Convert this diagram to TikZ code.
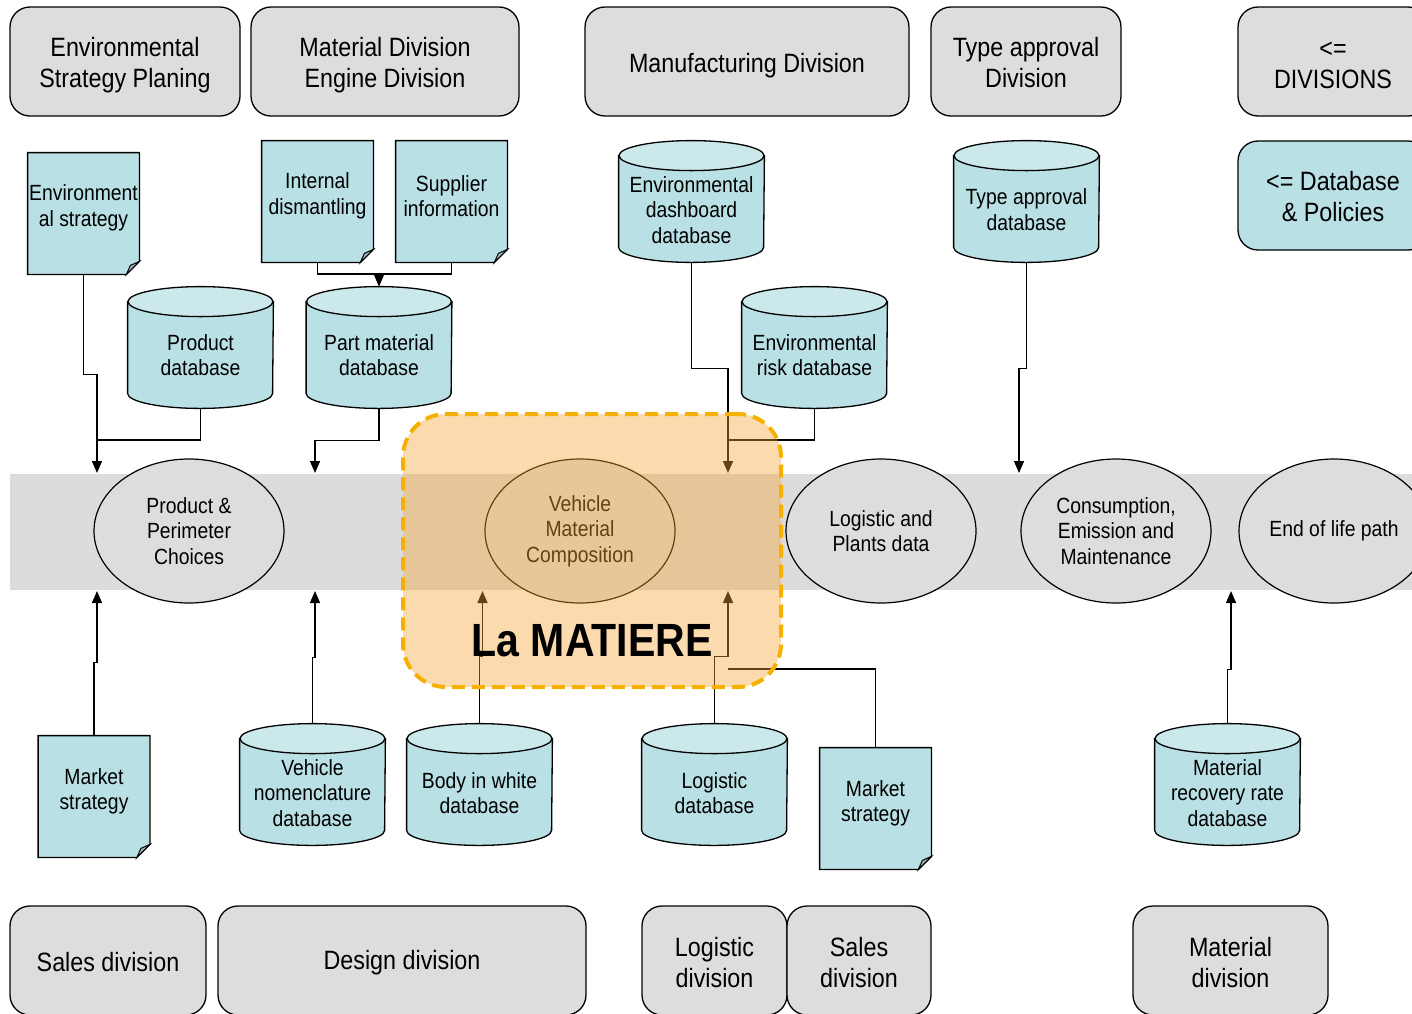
\documentclass[tikz,border=0pt]{standalone}
\usepackage{fontspec}
\setmainfont{Liberation Sans}[FakeStretch=0.88]
\usetikzlibrary{arrows.meta,shapes.geometric}
\definecolor{divgray}{RGB}{221,221,221}
\definecolor{bandgray}{RGB}{220,220,220}
\definecolor{tealbody}{RGB}{185,224,228}
\definecolor{tealtop}{RGB}{203,232,235}
\definecolor{foldgray}{RGB}{165,186,189}
\definecolor{matorange}{RGB}{246,176,0}
\definecolor{matfill}{RGB}{247,165,50}
\pgfdeclarelayer{bg}
\pgfdeclarelayer{shapes}
\pgfsetlayers{bg,shapes,main}
\newcommand\fsbig{\fontsize{13.25pt}{15.5pt}\selectfont}
\newcommand\fssm{\fontsize{11pt}{12.7pt}\selectfont}
\newcommand\cylof[1]{%
 \filldraw[line width=.65pt, fill=tealbody] ([yshift=-7.5pt]#1.north west) -- ([yshift=7.5pt]#1.south west)
   arc[start angle=180, end angle=360, x radius=36.25pt, y radius=7.5pt] -- ([yshift=-7.5pt]#1.north east) -- cycle;
 \filldraw[line width=.65pt, fill=tealtop] ([yshift=-7.5pt]#1.north) ellipse [x radius=36.25pt, y radius=7.5pt];}
\newcommand\docof[1]{%
 \filldraw[line width=.65pt, fill=tealbody] (#1.north west) -- (#1.north east) -- ([yshift=6.5pt]#1.south east)
   -- ([xshift=-6.5pt]#1.south east) -- (#1.south west) -- cycle;
 \filldraw[line width=.5pt, fill=foldgray] ([yshift=6.5pt]#1.south east) -- ([xshift=-4.5pt,yshift=4.5pt]#1.south east)
   -- ([xshift=-6.5pt]#1.south east) -- cycle;}
\begin{document}
\begin{tikzpicture}[x=0.5pt,y=-0.5pt,
  divbox/.style={draw, line width=.65pt, fill=divgray, rounded corners=10pt, inner sep=0, minimum height=54.5pt},
  polbox/.style={divbox, fill=tealbody},
  bigtxt/.style={align=center, font=\fsbig, inner sep=0},
  docnode/.style={minimum width=55.5pt, minimum height=60.5pt, inner sep=0},
  cylnode/.style={minimum width=72.5pt, minimum height=60.5pt, inner sep=0},
  txt/.style={align=center, font=\fssm, inner sep=0},
  ellnode/.style={ellipse, draw, line width=.6pt, fill=divgray, minimum width=95pt, minimum height=72pt, inner sep=0},
  ln/.style={line width=.7pt},
  arr/.style={line width=.7pt, -{Triangle[length=6pt,width=5pt]}},
  matbox/.style={draw=matorange, line width=2pt, dash pattern=on 6.5pt off 3.5pt, fill=matfill, fill opacity=0.4,
     rounded corners=21.5pt, minimum width=189pt, minimum height=136.5pt, inner sep=0}]
\path[use as bounding box, clip] (0,0) rectangle (1412,1013);

% background and band
\begin{pgfonlayer}{bg}
\fill[white] (0,0) rectangle (1412,1013);
\node[fill=bandgray, minimum width=705pt, minimum height=58pt, inner sep=0] (band) at (715,532) {};
\end{pgfonlayer}

% top divisions
\node[divbox, minimum width=115pt] (d1) at (125,61.5) {};
\node[bigtxt] (d1-t) at ([yshift=-2pt]d1.center) {Environmental\\Strategy Planing};
\node[divbox, minimum width=134pt] (d2) at (385,61.5) {};
\node[bigtxt] (d2-t) at ([yshift=-2pt]d2.center) {Material Division\\Engine Division};
\node[divbox, minimum width=162pt] (d3) at (747,61.5) {};
\node[bigtxt] (d3-t) at ([yshift=-2pt]d3.center) {Manufacturing Division};
\node[divbox, minimum width=95pt] (d4) at (1026,61.5) {};
\node[bigtxt] (d4-t) at ([yshift=-0.75pt]d4.center) {Type approval\\Division};
\node[divbox, minimum width=95pt] (d5) at (1333,61.5) {};
\node[bigtxt] (d5-t) at ([yshift=-2pt]d5.center) {<=\\DIVISIONS};
\node[polbox, minimum width=95pt] (pol) at (1333,195.5) {};
\node[bigtxt] (pol-t) at ([yshift=-0.5pt]pol.center) {<= Database\\\& Policies};

% bottom divisions
\node[divbox, minimum width=98pt] (b1) at (108,960.5) {};
\node[bigtxt] (b1-t) at ([yshift=-1pt]b1.center) {Sales division};
\node[divbox, minimum width=184pt] (b2) at (402,960.5) {};
\node[bigtxt] (b2-t) at ([yshift=-1pt]b2.center) {Design division};
\node[divbox, minimum width=72.5pt] (b3) at (714.5,960.5) {};
\node[bigtxt] (b3-t) at ([yshift=-1pt]b3.center) {Logistic\\division};
\node[divbox, minimum width=72pt] (b4) at (859,960.5) {};
\node[bigtxt] (b4-t) at ([yshift=-1pt]b4.center) {Sales\\division};
\node[divbox, minimum width=97.5pt] (b5) at (1230.5,960.5) {};
\node[bigtxt] (b5-t) at ([yshift=-1pt]b5.center) {Material\\division};

% documents
\node[docnode] (es) at (83.5,213.5) {};
\node[txt] (es-t) at ([yshift=2.75pt]es.center) {Environment\\al strategy};
\node[docnode] (idm) at (317.5,201.5) {};
\node[txt] (idm-t) at ([yshift=2.75pt]idm.center) {Internal\\dismantling};
\node[docnode] (sup) at (451.5,201.5) {};
\node[txt] (sup-t) at ([yshift=2.75pt]sup.center) {Supplier\\information};
\node[docnode] (ms1) at (94,796.5) {};
\node[txt] (ms1-t) at ([yshift=2.5pt]ms1.center) {Market\\strategy};
\node[docnode] (ms2) at (875.5,808.5) {};
\node[txt] (ms2-t) at ([yshift=2.5pt]ms2.center) {Market\\strategy};

% cylinders
\node[cylnode] (pd) at (200.5,347.5) {};
\node[txt] (pd-t) at ([yshift=-3.75pt]pd.center) {Product\\database};
\node[cylnode] (pm) at (379,347.5) {};
\node[txt] (pm-t) at ([yshift=-3.75pt]pm.center) {Part material\\database};
\node[cylnode] (edb) at (691.5,201.5) {};
\node[txt] (edb-t) at ([yshift=-4.25pt]edb.center) {Environmental\\dashboard\\database};
\node[cylnode] (erd) at (814.5,347.5) {};
\node[txt] (erd-t) at ([yshift=-3.75pt]erd.center) {Environmental\\risk database};
\node[cylnode] (tad) at (1026.5,201.5) {};
\node[txt] (tad-t) at ([yshift=-4pt]tad.center) {Type approval\\database};
\node[cylnode] (vnd) at (312.5,784.5) {};
\node[txt] (vnd-t) at ([yshift=-4.25pt]vnd.center) {Vehicle\\nomenclature\\database};
\node[cylnode] (bwd) at (479.5,784.5) {};
\node[txt] (bwd-t) at ([yshift=-4.25pt]bwd.center) {Body in white\\database};
\node[cylnode] (ldb) at (714.5,784.5) {};
\node[txt] (ldb-t) at ([yshift=-4.25pt]ldb.center) {Logistic\\database};
\node[cylnode] (mrd) at (1227.5,784.5) {};
\node[txt] (mrd-t) at ([yshift=-4.25pt]mrd.center) {Material\\recovery rate\\database};

\begin{pgfonlayer}{shapes}
\foreach \n in {es,idm,sup,ms1,ms2} {\docof{\n}}
\foreach \n in {pd,pm,edb,erd,tad,vnd,bwd,ldb,mrd} {\cylof{\n}}
\end{pgfonlayer}

% ellipses
\node[ellnode] (pp) at (189,531) {};
\node[txt] (pp-t) at (pp) {Product \&\\Perimeter\\Choices};
\node[ellnode] (vmc) at (580,531) {};
\node[txt] (vmc-t) at (vmc) {Vehicle\\Material\\Composition};
\node[ellnode] (lpd) at (881,531) {};
\node[txt] (lpd-t) at (lpd) {Logistic and\\Plants data};
\node[ellnode] (cem) at (1116,531) {};
\node[txt] (cem-t) at (cem) {Consumption,\\Emission and\\Maintenance};
\node[ellnode] (eol) at (1334,531) {};
\node[txt] (eol-t) at (eol) {End of life path};

% connector ends
\coordinate (t1) at (97,473);
\coordinate (t2) at (315,473);
\coordinate (t3) at (728,473);
\coordinate (t4) at (1019,473);
\coordinate (t5) at (97,591);
\coordinate (t6) at (315,591);
\coordinate (t7) at (482.5,591);
\coordinate (t8) at (728,591);
\coordinate (t9) at (1231,591);
\coordinate (j1) at (97,440);
\coordinate (j2) at (379,274);
\coordinate (j3) at (728,440);
\coordinate (j4) at (728,669);

% connectors (top)
\draw[arr] (es.south) -- ++(0,100) -| (t1);
\draw[ln] (pd.south) |- (j1);
\draw[arr] (pm.south) -- ++(0,32) -| (t2);
\draw[ln] (idm.south) |- (j2);
\draw[ln] (sup.south) |- (j2);
\draw[arr] (j2) -- (pm.north);
\draw[arr] (edb.south) -- ++(0,106) -| (t3);
\draw[ln] (erd.south) |- (j3);
\draw[arr] (tad.south) -- ++(0,106) -| (t4);
% connectors (bottom)
\draw[arr] (ms1.north) -- ++(0,-73) -| (t5);
\draw[arr] (vnd.north) -- ++(0,-66) -| (t6);
\draw[arr] (bwd.north) -- ++(0,-67) -| (t7);
\draw[arr] (ldb.north) -- ++(0,-67) -| (t8);
\draw[ln] (ms2.north) |- (j4);
\draw[arr] (mrd.north) -- ++(0,-54) -| (t9);

% La MATIERE
\node[matbox] (mat) at (592,550.5) {};
\node[font=\fontsize{23.3pt}{26pt}\selectfont\bfseries, inner sep=0] (lam) at (592,641) {La MATIERE};
\end{tikzpicture}
\end{document}
